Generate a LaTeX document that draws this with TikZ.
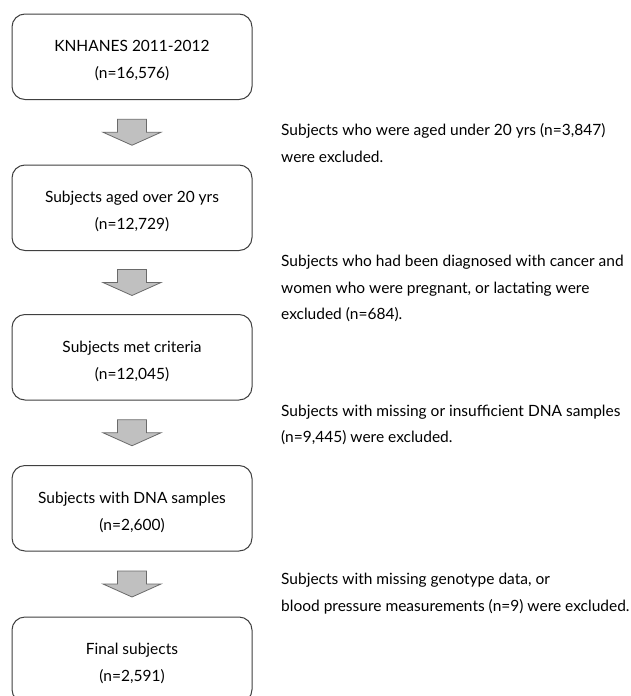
\documentclass[tikz,border=0pt]{standalone}
\usepackage{fontspec}
\setmainfont{Lato}
\usetikzlibrary{calc}
\definecolor{boxline}{HTML}{404040}
\definecolor{arrfill}{HTML}{C0C0C0}
\definecolor{arrline}{HTML}{6A6A6A}
\newcommand\blockarrowat[1]{%
  \draw[blockarrow] ($(#1)+(-14.5,-13)$) -- ($(#1)+(14.5,-13)$) -- ($(#1)+(14.5,0)$)
    -- ($(#1)+(29,0)$) -- ($(#1)+(0,13)$) -- ($(#1)+(-29,0)$) -- ($(#1)+(-14.5,0)$) -- cycle;}
\begin{document}
\begin{tikzpicture}[x=1pt,y=-1pt,
  box/.style={draw=boxline, line width=1pt, rounded corners=13pt, minimum width=240pt, minimum height=85.5pt, inner sep=0pt},
  txt/.style={inner sep=0pt, font=\fontsize{15.5}{27}\selectfont, text=black},
  blockarrow/.style={draw=arrline, fill=arrfill, line width=0.8pt, line join=miter}]
\useasboundingbox (0,0) rectangle (630,696);
\clip (0,0) rectangle (630,696);
\fill[white] (0,0) rectangle (630,696);
% boxes
\node[box] (b1) at (132,56.75) {};
\node[box] (b2) at (132,207.75) {};
\node[box] (b3) at (132,357.25) {};
\node[box] (b4) at (132,508.25) {};
\node[box] (b5) at (132,659.75) {};
% box texts
\node[txt, anchor=base] (t1a) at ($(b1.north)+(0,38)$) {KNHANES 2011-2012};
\node[txt, anchor=base] (t1b) at ($(b1.north)+(0,65)$) {(n=16,576)};
\node[txt, anchor=base] (t2a) at ($(b2.north)+(0,38)$) {Subjects aged over 20 yrs};
\node[txt, anchor=base] (t2b) at ($(b2.north)+(0,65)$) {(n=12,729)};
\node[txt, anchor=base] (t3a) at ($(b3.north)+(0,38)$) {Subjects met criteria};
\node[txt, anchor=base] (t3b) at ($(b3.north)+(0,65)$) {(n=12,045)};
\node[txt, anchor=base] (t4a) at ($(b4.north)+(0,38)$) {Subjects with DNA samples};
\node[txt, anchor=base] (t4b) at ($(b4.north)+(0,65)$) {(n=2,600)};
\node[txt, anchor=base] (t5a) at ($(b5.north)+(0,38)$) {Final subjects};
\node[txt, anchor=base] (t5b) at ($(b5.north)+(0,65)$) {(n=2,591)};
% arrows between boxes
\coordinate (a1) at ($(b1.south)!0.5!(b2.north)$);
\coordinate (a2) at ($(b2.south)!0.5!(b3.north)$);
\coordinate (a3) at ($(b3.south)!0.5!(b4.north)$);
\coordinate (a4) at ($(b4.south)!0.5!(b5.north)$);
\blockarrowat{a1}
\blockarrowat{a2}
\blockarrowat{a3}
\blockarrowat{a4}
% exclusion notes
\node[txt, anchor=base west] (e1a) at (281,135) {Subjects who were aged under 20 yrs (n=3,847)};
\node[txt, anchor=base west] (e1b) at (281,162) {were excluded.};
\node[txt, anchor=base west] (e2a) at (281,266) {Subjects who had been diagnosed with cancer and};
\node[txt, anchor=base west] (e2b) at (281,293) {women who were pregnant, or lactating were};
\node[txt, anchor=base west] (e2c) at (281,319) {excluded (n=684).};
\node[txt, anchor=base west] (e3a) at (281,416) {Subjects with missing or insufficient DNA samples};
\node[txt, anchor=base west] (e3b) at (281,442) {(n=9,445) were excluded.};
\node[txt, anchor=base west] (e4a) at (281,584) {Subjects with missing genotype data, or};
\node[txt, anchor=base west] (e4b) at (281,611) {blood pressure measurements (n=9) were excluded.};
\end{tikzpicture}
\end{document}
